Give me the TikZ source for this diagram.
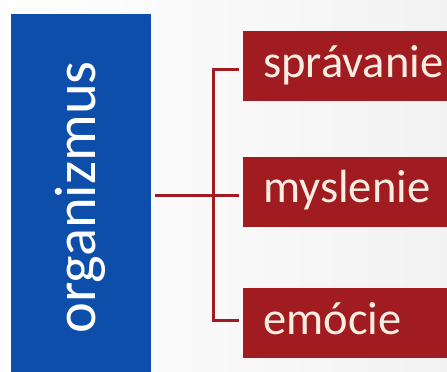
\documentclass[tikz,border=0pt]{standalone}
\usepackage{fontspec}
\setmainfont{Carlito}
\definecolor{obBlueC}{RGB}{12,78,170}
\definecolor{obRedC}{RGB}{160,28,33}
\definecolor{obTxt}{RGB}{250,238,226}
\begin{document}
\begin{tikzpicture}[x=1pt,y=-1pt,
  bluebox/.style={fill=obBlueC, draw=none, minimum width=140pt, minimum height=358pt, inner sep=0pt},
  orgtext/.style={text=white, font=\fontsize{58.5}{64}\selectfont, inner sep=0pt, text height=30pt, text depth=12pt},
  redbox/.style={fill=obRedC, draw=none, anchor=west, minimum height=70pt, text width=164pt, inner xsep=20pt, inner ysep=0pt, align=left, text=obTxt, font=\fontsize{46.5}{54}\selectfont, text height=31pt, text depth=9pt},
  conn/.style={draw=obRedC, line width=3pt}]
\fill[left color=white, right color=gray!10] (0,0) rectangle (447,372);
\useasboundingbox (0,0) rectangle (447,372);
\node[bluebox] (org) at (81,193) {};
\node[orgtext, rotate=90] (orgt) at (86,197.5) {organizmus};
\node[redbox] (spr) at (243,66) {správanie};
\node[redbox] (mys) at (243,191.5) {myslenie};
\node[redbox] (emo) at (243,323) {emócie};
\coordinate (j) at (213,195);
\coordinate (t) at (213,69);
\coordinate (b) at (213,320);
\draw[conn] ([xshift=4pt]org.east |- j) -- ([xshift=-4pt]mys.west |- j);
\draw[conn] ([xshift=-4pt]spr.west |- t) -- (t) -- (b) -- ([xshift=-4pt]emo.west |- b);
\end{tikzpicture}
\end{document}
